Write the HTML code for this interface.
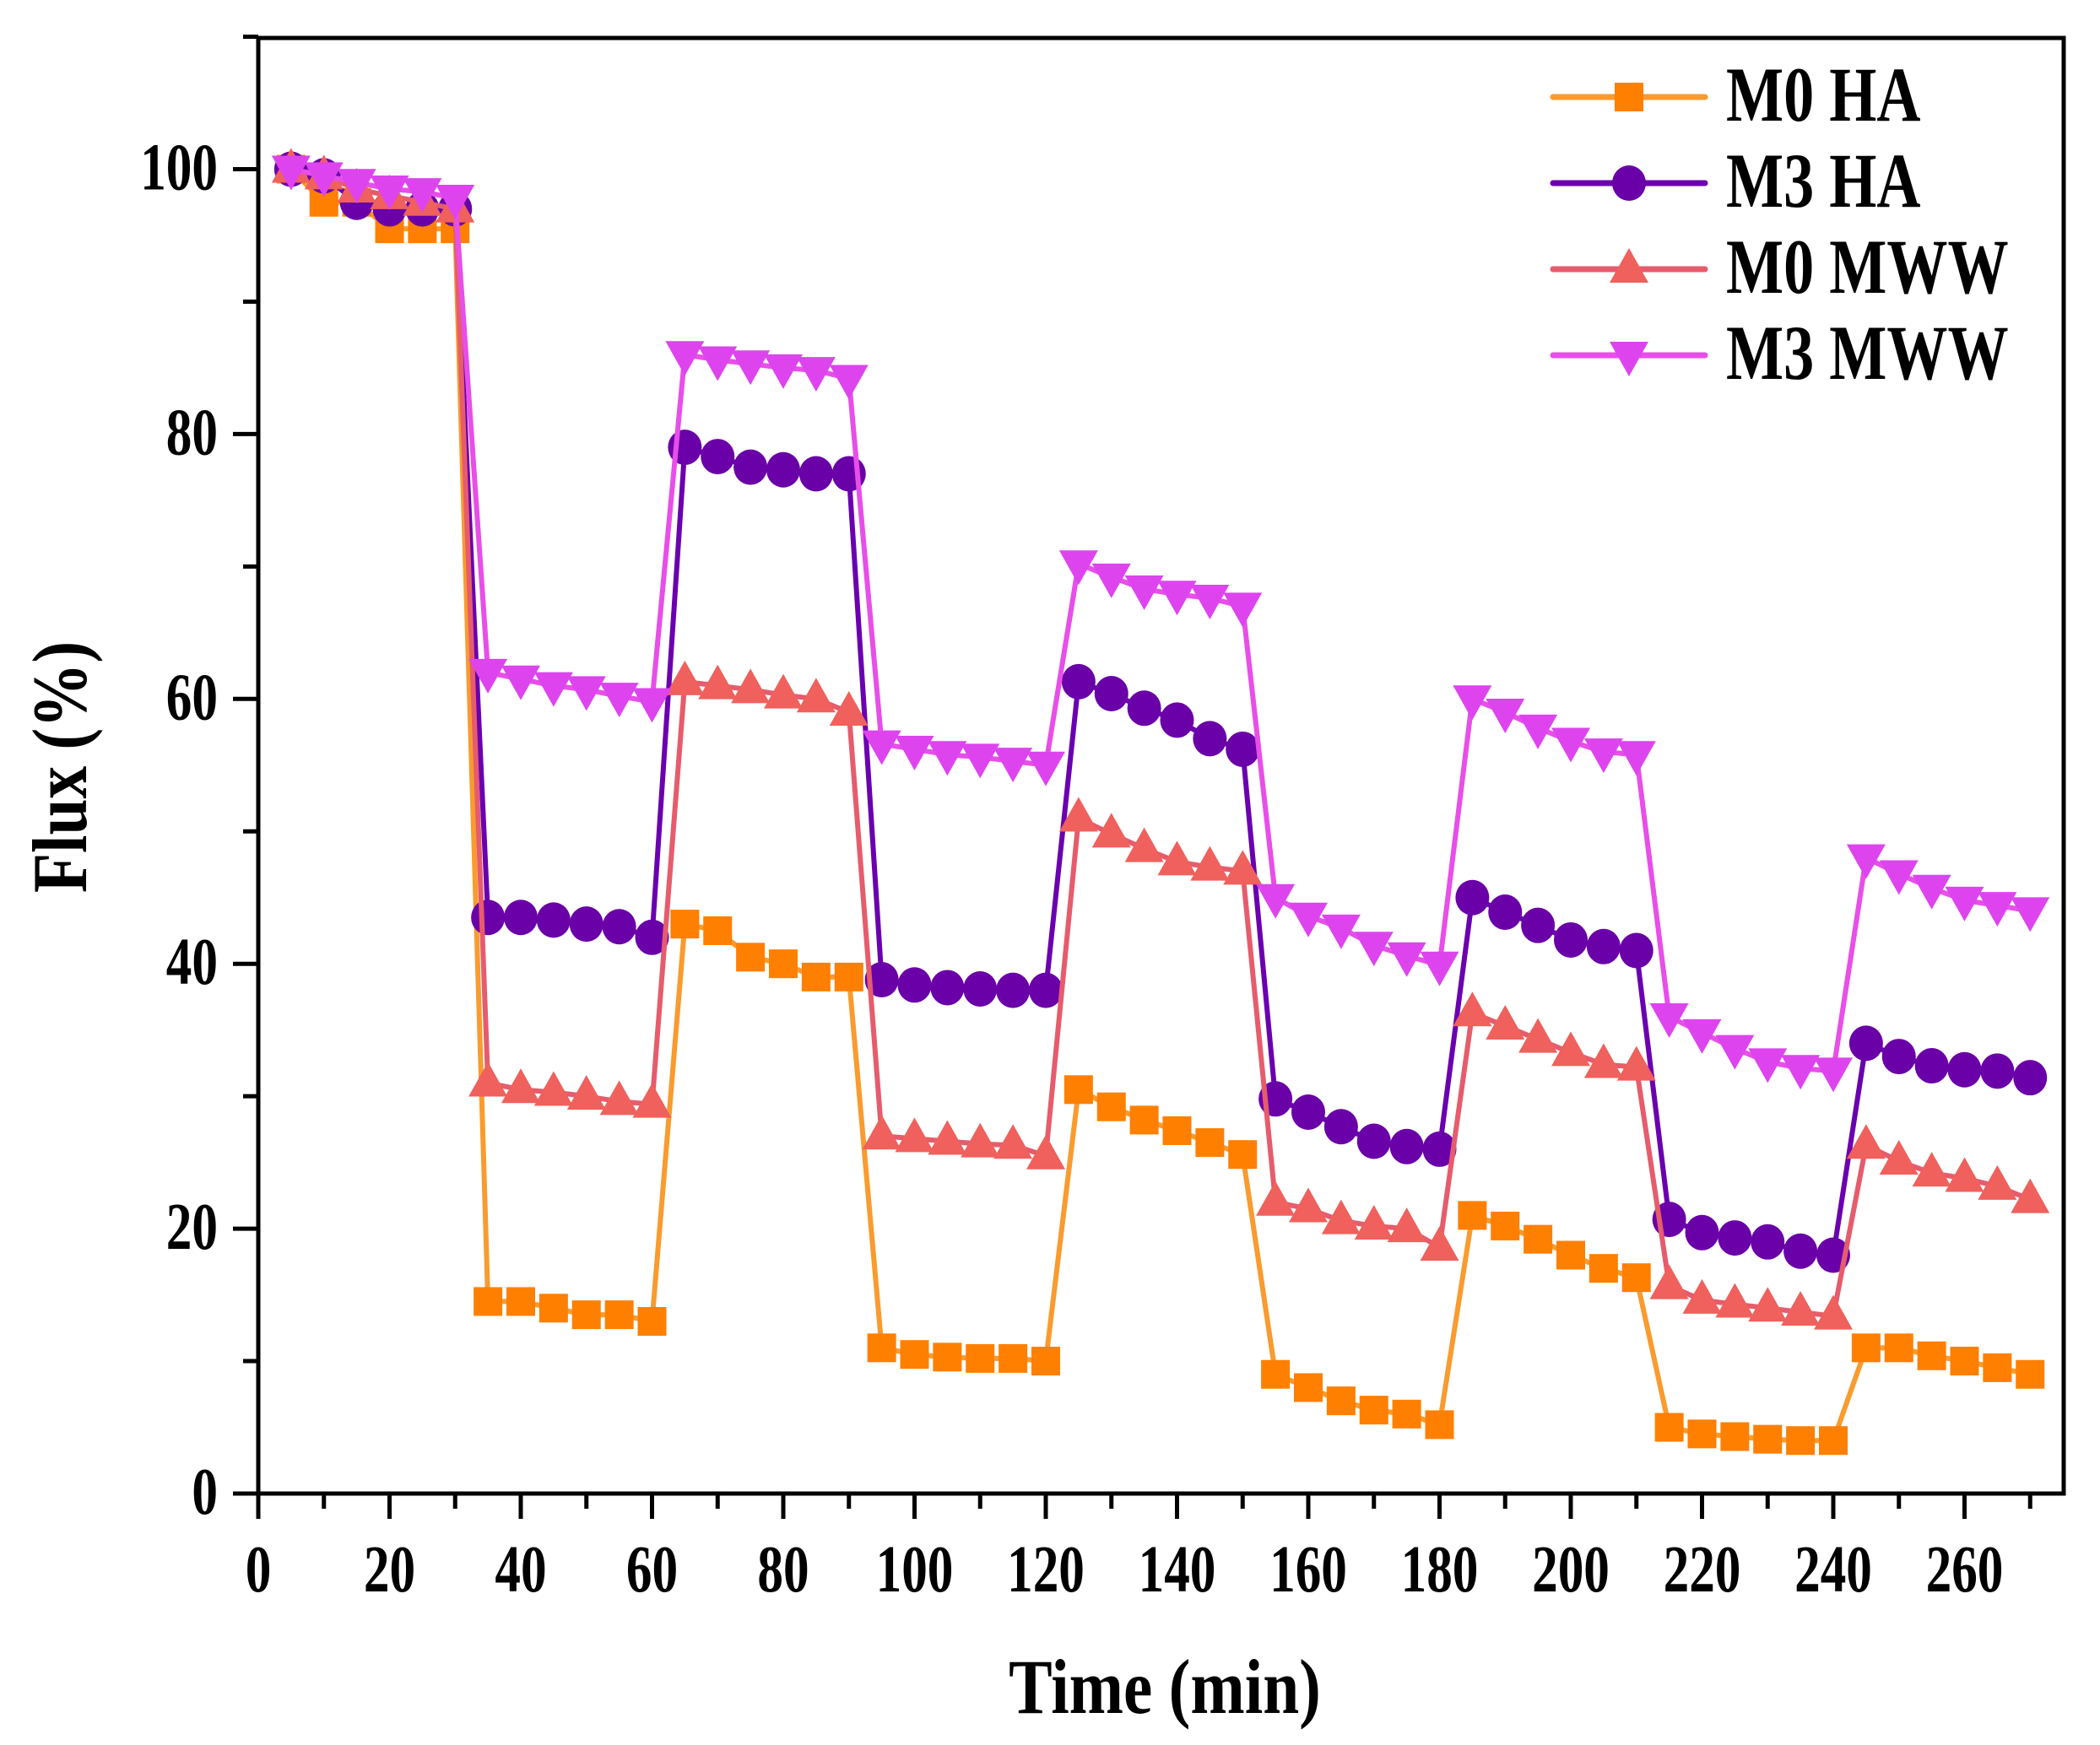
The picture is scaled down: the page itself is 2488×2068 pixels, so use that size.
<!DOCTYPE html>
<html><head><meta charset="utf-8"><style>
html,body{margin:0;padding:0;background:#fff;}
svg{display:block;}
text{font-family:"Liberation Serif",serif;font-weight:bold;fill:#000;}
</style></head><body>
<svg id="s" width="2488" height="2068" viewBox="0 0 2488 2068" xmlns="http://www.w3.org/2000/svg">
<g id="ticks" stroke="#000" stroke-width="5"></g>
<g id="data"></g>
<rect x="306" y="45" width="2139" height="1725" fill="none" stroke="#000" stroke-width="5"/>
<g id="xl" font-size="72" text-anchor="middle"></g>
<g id="yl" font-size="72" text-anchor="end"></g>
<text transform="translate(1380,2030) scale(0.92,1.1)" font-size="84" text-anchor="middle">Time (min)</text>
<text transform="translate(102,909) rotate(-90) scale(0.92,1.1)" font-size="84" text-anchor="middle">Flux (%)</text>
<g id="leg"></g>
<g font-size="82">
<text transform="translate(2045,143) scale(0.88,1.12)">M0 HA</text>
<text transform="translate(2045,245) scale(0.88,1.12)">M3 HA</text>
<text transform="translate(2045,347) scale(0.88,1.12)">M0 MWW</text>
<text transform="translate(2045,449) scale(0.88,1.12)">M3 MWW</text>
</g>
</svg>
<script>
const NS="http://www.w3.org/2000/svg";
const X=t=>306+t*155.5/20, Y=v=>1770-v*313.9/20;
function el(p,n,a){const e=document.createElementNS(NS,n);for(const k in a)e.setAttribute(k,a[k]);p.appendChild(e);return e;}
const tk=document.getElementById('ticks');
for(let t=0;t<=270;t+=10){const maj=t%20==0;el(tk,'line',{x1:X(t),x2:X(t),y1:1770,y2:1770+(maj?30:18)});}
for(let v=0;v<=110;v+=10){const maj=v%20==0;el(tk,'line',{y1:Y(v),y2:Y(v),x1:306,x2:306-(maj?30:18)});}
const xl=document.getElementById('xl'),yl=document.getElementById('yl');
for(let t=0;t<=260;t+=20){const e=el(xl,'text',{transform:`translate(${X(t)},1886) scale(0.85,1.1)`});e.textContent=t;}
for(let v=0;v<=100;v+=20){const e=el(yl,'text',{transform:`translate(258,${Y(v)+24}) scale(0.85,1.1)`});e.textContent=v;}
const S=[
{c:'#f99b2e',m:'#ff7f00',k:'sq',d:[100,97.5,97.5,95.5,95.5,95.5,14.5,14.5,14,13.5,13.5,13,43,42.5,40.5,40,39,39,11,10.5,10.3,10.2,10.2,10,30.5,29.2,28.2,27.4,26.5,25.6,9,8,7,6.3,6,5.2,21,20.2,19.2,18,17,16.3,5,4.5,4.3,4.1,4,4,11,11,10.4,10,9.5,9]},
{c:'#6a00b0',m:'#6a00a8',k:'ci',d:[100,99.5,97.5,97,97,97,43.5,43.5,43.3,43,42.8,42,79,78.3,77.5,77.3,77,77,38.8,38.4,38.2,38.1,38,38,61.3,60.4,59.3,58.4,57,56.2,29.8,28.8,27.7,26.6,26.2,26,45,43.9,42.9,41.8,41.3,41,20.7,19.7,19.3,19,18.3,18,34,33,32.3,32,31.9,31.4]},
{c:'#e65c6c',m:'#f0605c',k:'up',d:[100,99.5,98.5,98,97.5,97,31,30.5,30.3,30,29.6,29.4,61.3,61,60.7,60.3,60,59,27,26.8,26.6,26.4,26.3,25.5,51,49.8,48.7,47.7,47.3,47,22,21.5,20.6,20.2,20,18.6,36.3,35.3,34.3,33.3,32.4,32.2,15.7,14.6,14.3,14,13.7,13.4,26.3,25.1,24.2,23.8,23.2,22.2]},
{c:'#e84ee8',m:'#dd44ee',k:'dn',d:[100,99.5,99,98.5,98.3,97.8,62,61.5,61,60.7,60.2,59.8,86,85.6,85.3,85,84.8,84.2,56.6,56.2,55.8,55.6,55.3,55,70.2,69.2,68.3,67.9,67.6,67,45,43.6,42.7,41.4,40.6,39.9,60,59,57.8,56.8,56,55.8,36,34.8,33.6,32.6,32.1,31.9,48,46.8,45.7,44.8,44.4,44]}];
function mk(g,k,x,y,col){
 if(k=='sq')el(g,'rect',{x:x-17,y:y-17,width:34,height:34,fill:col});
 else if(k=='ci')el(g,'ellipse',{cx:x,cy:y,rx:20,ry:21,fill:col});
 else if(k=='up')el(g,'polygon',{points:`${x},${y-25} ${x-23},${y+16} ${x+23},${y+16}`,fill:col});
 else el(g,'polygon',{points:`${x},${y+25} ${x-23},${y-16} ${x+23},${y-16}`,fill:col});
}
const dg=document.getElementById('data'),lg=document.getElementById('leg');
S.forEach((s,i)=>{
 const g=el(dg,'g',{});
 el(g,'polyline',{points:s.d.map((v,j)=>X(5+5*j)+','+Y(v)).join(' '),fill:'none',stroke:s.c,'stroke-width':6,'stroke-linejoin':'round'});
 s.d.forEach((v,j)=>mk(g,s.k,X(5+5*j),Y(v),s.m));
 const ly=115+102*i;
 el(lg,'line',{x1:1840,x2:2020,y1:ly,y2:ly,stroke:s.c,'stroke-width':7,'stroke-linecap':'round'});
 mk(lg,s.k,1930,ly,s.m);
});
</script>
</body></html>
